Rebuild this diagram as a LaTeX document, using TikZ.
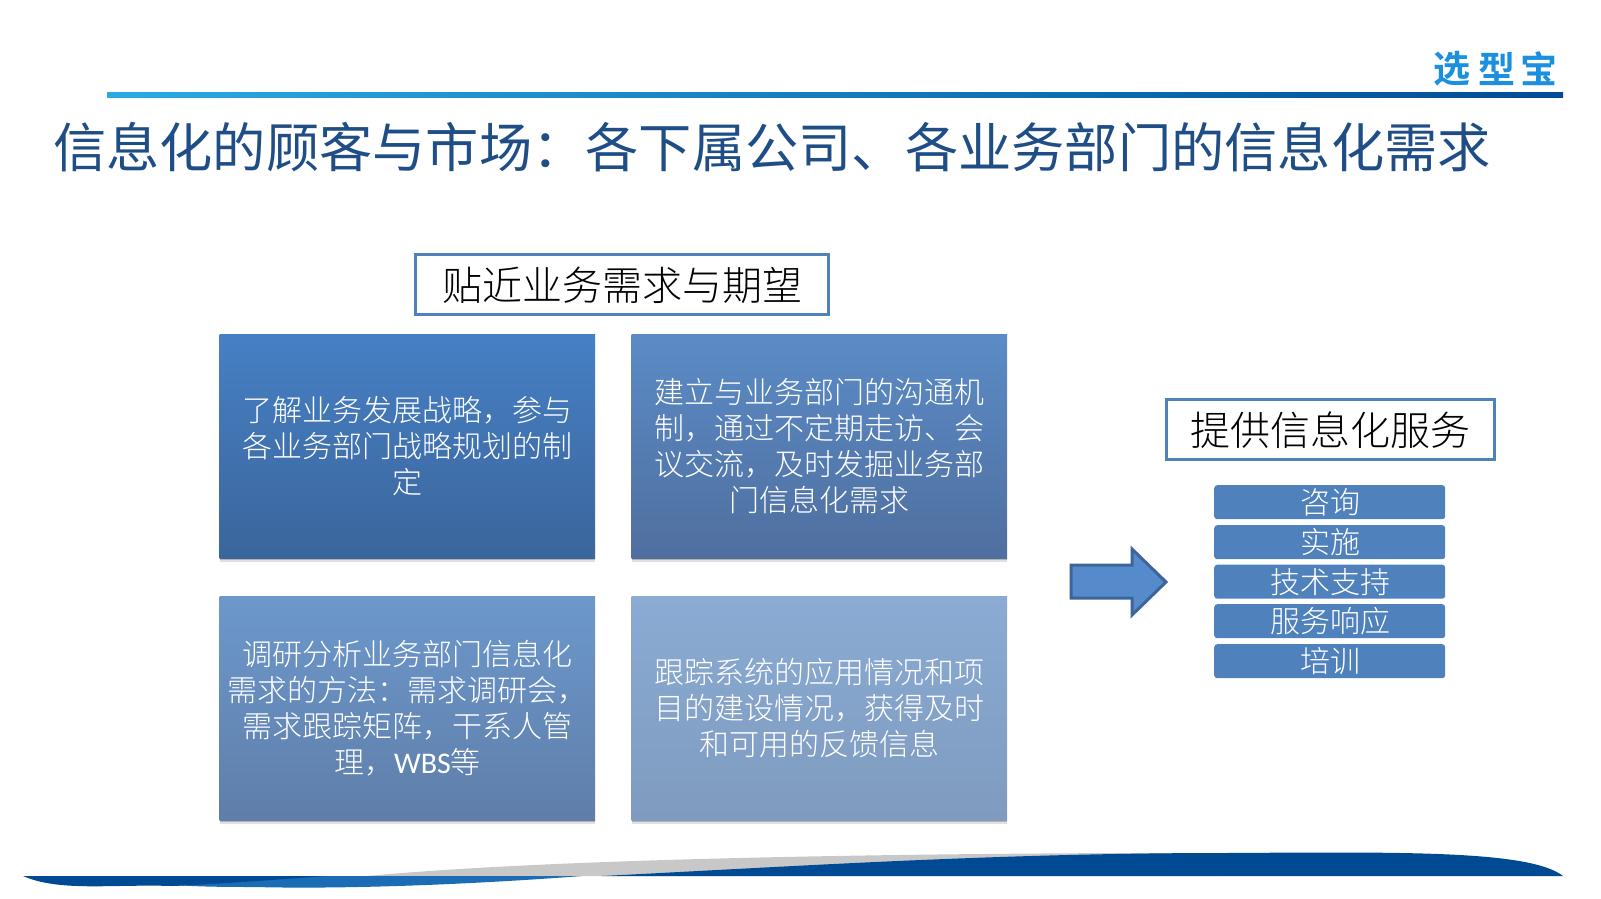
\documentclass[tikz,border=0pt]{standalone}
\usepackage{fontspec}
\setmainfont{Noto Sans CJK SC Light}
\newfontfamily\latinf{Carlito}
\newfontfamily\boldcjk{Noto Sans CJK SC Bold}
\newfontfamily\regcjk{Noto Sans CJK SC}
\usetikzlibrary{shadows}
\definecolor{titleblue}{HTML}{1F4E86}
\definecolor{framec}{HTML}{4F81BD}
\definecolor{barc}{HTML}{4F81BD}
\definecolor{logoc}{HTML}{1B8FE0}
\definecolor{rulea}{HTML}{29ABE2}
\definecolor{ruleb}{HTML}{004C97}
\definecolor{sdark}{HTML}{004A94}
\definecolor{smid}{HTML}{1A6CB4}
\definecolor{sgray}{HTML}{C8C8C8}
\definecolor{aone}{HTML}{4680C4}\definecolor{bone}{HTML}{3B659C}
\definecolor{atwo}{HTML}{5B8BC6}\definecolor{btwo}{HTML}{4F6F9F}
\definecolor{athr}{HTML}{6C98CC}\definecolor{bthr}{HTML}{5F7EA9}
\definecolor{afou}{HTML}{8AABD3}\definecolor{bfou}{HTML}{7F9BBF}
\definecolor{arrowf}{HTML}{558ACB}\definecolor{arrowd}{HTML}{3E6599}
\tikzset{
  x=1pt,y=-1pt,
  headbox/.style={draw=framec,line width=3pt,fill=white,inner sep=0pt,text height=37pt,text depth=5pt,font=\fontsize{40}{46}\selectfont,text=black},
  tile/.style={anchor=north west,minimum width=375.5pt,minimum height=224pt,inner sep=0pt,align=center,text=white,
    font=\fontsize{30}{36}\selectfont,
    drop shadow={shadow xshift=0pt,shadow yshift=-4pt,opacity=.12,fill=black},
    drop shadow={shadow xshift=0pt,shadow yshift=-2pt,opacity=.2,fill=black}},
  barbox/.style={fill=barc,rounded corners=3pt,anchor=north west,minimum width=231pt,minimum height=34pt,inner sep=0pt,text=white,font=\fontsize{30}{34}\selectfont},
  logotext/.style={anchor=center,inner sep=0pt,text=logoc,font=\boldcjk\fontsize{37}{37}\selectfont},
}
\begin{document}
\begin{tikzpicture}
\useasboundingbox (0,0) rectangle (1601,898);
\fill[white] (0,0) rectangle (1601,898);
% top rule
\shade[left color=rulea,right color=ruleb] (107,92) rectangle (1563,97);
% logo
\node[logotext] (logoa) at (1452,69) {选};
\node[logotext] (logob) at (1497,69) {型};
\node[logotext] (logoc) at (1539,69) {宝};
% title
\node[anchor=west,inner sep=0pt,text=titleblue,font=\regcjk\fontsize{53.25}{60}\selectfont] (title) at (53,147) {信息化的顾客与市场：各下属公司、各业务部门的信息化需求};
% headers
\node[headbox,minimum width=413pt,minimum height=60pt] (headl) at (622,284) {贴近业务需求与期望};
\node[headbox,minimum width=328pt,minimum height=60pt] (headr) at (1330,429) {提供信息化服务};
% tiles
\node[tile,top color=aone,bottom color=bone] (t1) at (219.5,334) {了解业务发展战略，参与\\各业务部门战略规划的制\\定};
\node[tile,top color=atwo,bottom color=btwo] (t2) at (631.5,334) {建立与业务部门的沟通机\\制，通过不定期走访、会\\议交流，及时发掘业务部\\门信息化需求};
\node[tile,top color=athr,bottom color=bthr] (t3) at (219.5,596) {调研分析业务部门信息化\\需求的方法：需求调研会，\\需求跟踪矩阵，干系人管\\理，{\latinf WBS}等};
\node[tile,top color=afou,bottom color=bfou] (t4) at (631.5,596) {跟踪系统的应用情况和项\\目的建设情况，获得及时\\和可用的反馈信息};
% arrow
\draw[fill=arrowf,draw=arrowd,line width=3pt,miter limit=10] (1071,565) -- (1132,565) -- (1132,549) -- (1166,582) -- (1132,615) -- (1132,598) -- (1071,598) -- cycle;
% bars
\node[barbox] (b1) at (1214,485) {\hspace{2pt}咨询};
\node[barbox] (b2) at (1214,525) {\hspace{2pt}实施};
\node[barbox] (b3) at (1214,564.5) {\hspace{2pt}技术支持};
\node[barbox] (b4) at (1214,604) {\hspace{2pt}服务响应};
\node[barbox] (b5) at (1214,644) {\hspace{2pt}培训};
% bottom swoosh
\fill[sgray] (367,876) .. controls (560,858) and (900,854) .. (1122,853) -- (1225,853) -- (1225,876) -- cycle;
\fill[sdark] (602,876) .. controls (800,866) and (1000,853) .. (1225,853) .. controls (1400,852) and (1530,850) .. (1563,876) -- cycle;
\fill[smid] (133,876) -- (582,876) .. controls (450,886) and (330,889) .. (255,887) .. controls (200,887) and (170,886) .. (133,880) -- cycle;
\fill[sdark] (23,876) -- (326,876) .. controls (270,880) and (220,884) .. (173,886) .. controls (110,884) and (60,892) .. (23,876) -- cycle;
\end{tikzpicture}
\end{document}
